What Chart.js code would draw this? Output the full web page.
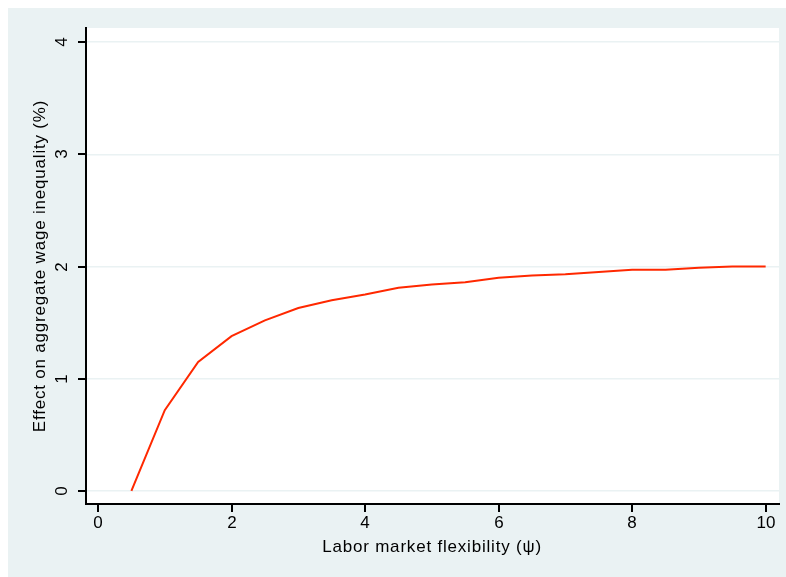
<!DOCTYPE html>
<html><head><meta charset="utf-8">
<script src="https://cdn.jsdelivr.net/npm/chart.js@4"></script>
<style>
html,body{margin:0;padding:0;background:#fff;width:786px;height:577px;overflow:hidden}
#bg{position:absolute;left:8px;top:8px;width:778px;height:569px;background:#eaf2f3}
#wrap{position:absolute;left:0;top:0;width:786px;height:577px}
</style></head><body>
<div id="bg"></div>
<div id="wrap"><canvas id="c" width="786" height="577"></canvas></div>
<script>
const psi = [0.5,1,1.5,2,2.5,3,3.5,4,4.5,5,5.5,6,6.5,7,7.5,8,8.5,9,9.5,10];
const effect = [0,0.72,1.15,1.38,1.52,1.63,1.70,1.75,1.81,1.84,1.86,1.90,1.92,1.93,1.95,1.97,1.97,1.99,2.00,2.00];
const xTicks = [0,2,4,6,8,10];
const yTicks = [0,1,2,3,4];
const xTitle = 'Labor market flexibility (\u03C8)';
const yTitle = 'Effect on aggregate wage inequality (%)';

const FONT = '17px "Liberation Sans", Arial, sans-serif';

const deco = {
  id:'deco',
  beforeDraw(chart){
    const {ctx, chartArea:a} = chart;
    ctx.save();
    ctx.fillStyle = '#ffffff';
    ctx.fillRect(a.left, a.top, a.right-a.left, a.bottom-a.top);
    ctx.restore();
  },
  afterDraw(chart){
    const {ctx, chartArea:a, scales:{x,y}} = chart;
    ctx.save();
    ctx.strokeStyle = '#000';
    ctx.lineWidth = 2;
    ctx.fillStyle = '#000';
    ctx.font = FONT;
    ctx.textAlign='center'; ctx.textBaseline='middle';
    xTicks.forEach(v=>{
      const px = Math.round(x.getPixelForValue(v));
      ctx.beginPath(); ctx.moveTo(px, a.bottom); ctx.lineTo(px, a.bottom+8); ctx.stroke();
      ctx.fillText(String(v), px, a.bottom+19);
    });
    yTicks.forEach(v=>{
      const py = Math.round(y.getPixelForValue(v));
      ctx.beginPath(); ctx.moveTo(a.left, py); ctx.lineTo(a.left-8, py); ctx.stroke();
      ctx.save(); ctx.translate(a.left-24, py); ctx.rotate(-Math.PI/2);
      ctx.fillText(String(v), 0, 0); ctx.restore();
    });
    try { ctx.letterSpacing = '0.8px'; } catch(e) {}
    ctx.fillText(xTitle, (a.left+a.right)/2 - 0.5, a.bottom+43);
    ctx.save(); ctx.translate(40, (a.top+a.bottom)/2); ctx.rotate(-Math.PI/2);
    ctx.fillText(yTitle, 0, 0); ctx.restore();
    ctx.restore();
  }
};

new Chart(document.getElementById('c'), {
  type:'line',
  data:{datasets:[{data: psi.map((v,i)=>({x:v, y:effect[i]})), borderColor:'rgb(255,40,0)', borderWidth:2, pointRadius:0, tension:0, fill:false}]},
  options:{
    responsive:false, animation:false, devicePixelRatio:1,
    layout:{padding:{top:28,right:7,left:0,bottom:0}},
    plugins:{legend:{display:false}, tooltip:{enabled:false}},
    scales:{
      x:{type:'linear', min:-0.18, max:10.2,
        afterBuildTicks:s=>{s.ticks = xTicks.map(v=>({value:v}));},
        afterFit:s=>{s.height = 73;},
        ticks:{display:false}, grid:{display:false, drawTicks:false},
        border:{display:true, color:'#000', width:2}},
      y:{type:'linear', min:-0.116, max:4.125,
        afterBuildTicks:s=>{s.ticks = yTicks.map(v=>({value:v}));},
        afterFit:s=>{s.width = 86;},
        ticks:{display:false}, grid:{display:true, drawTicks:false, color:'#eaf2f3', lineWidth:1.5},
        border:{display:true, color:'#000', width:2}}
    }
  },
  plugins:[deco]
});
</script></body></html>
